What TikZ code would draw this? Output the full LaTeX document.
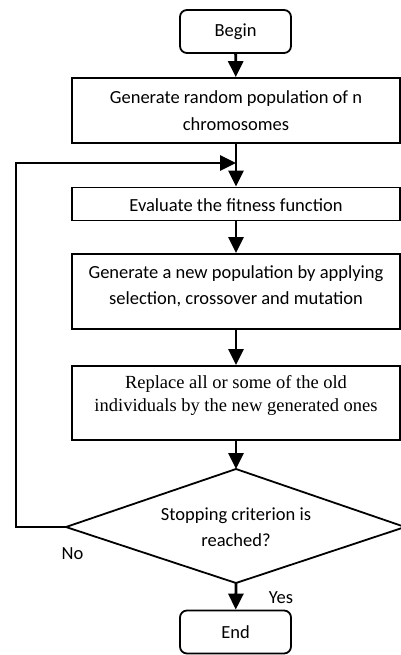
\documentclass[tikz,border=0pt]{standalone}
\usepackage{fontspec}
\setmainfont{Carlito}
\newfontfamily\timesfont{Liberation Serif}
\usetikzlibrary{arrows.meta}
\begin{document}
\begin{tikzpicture}[x=1pt,y=-1pt,
  box/.style={draw,line width=1.8pt,minimum width=328pt,align=center,inner sep=0pt,font=\fontsize{18.5}{27}\selectfont},
  term/.style={draw,line width=1.8pt,rounded corners=7pt,minimum width=111pt,minimum height=43pt,inner sep=0pt,font=\fontsize{18.5}{22}\selectfont},
  conn/.style={line width=2.8pt,-{Triangle[width=15pt,length=16pt]}},
  edge/.style={line width=1.8pt},
  lbl/.style={font=\fontsize{18.5}{22}\selectfont,inner sep=0pt}]
\useasboundingbox (0,0) rectangle (401,655);
\node[term] (begin) at (235.5,31.5) {Begin};
\node[box,minimum height=65pt] (gen) at (236,110.5) {Generate random population of n\\chromosomes};
\node[box,minimum height=33pt,text height=18pt,text depth=4pt] (eval) at (236,204) {Evaluate the fitness function};
\node[box,minimum height=75pt,font=\fontsize{18.5}{26}\selectfont,text height=29pt,text depth=4pt] (newpop) at (236,291.5) {Generate a new population by applying\\selection, crossover and mutation};
\node[box,minimum height=74pt,font=\timesfont\fontsize{18.5}{23}\selectfont,text height=20pt,text depth=4pt] (repl) at (236,403) {Replace all or some of the old\\individuals by the new generated ones};
\coordinate (dtop) at (236,469);
\coordinate (dleft) at (66,527);
\coordinate (dright) at (405,527);
\coordinate (dbot) at (236,583);
\draw[edge] (dtop) -- (dright) -- (dbot) -- (dleft) -- cycle;
\node[lbl,align=center,font=\fontsize{18.5}{26}\selectfont] (dec) at (236,527) {Stopping criterion is\\reached?};
\node[term] (end) at (235.5,632) {End};
\coordinate (c1) at (16,527);
\coordinate (c2) at (16,163);
\coordinate (loopin) at (236,163);
\draw[conn] (begin) -- (gen);
\draw[conn] (gen) -- (eval);
\draw[conn] (eval) -- (newpop);
\draw[conn] (newpop) -- (repl);
\draw[conn] (repl) -- (dtop);
\draw[conn] (dbot) -- (end);
\draw[conn] (dleft) -- (c1) -- (c2) -- (loopin);
\node[lbl] (no) at (72.5,554) {No};
\node[lbl] (yes) at (281,598) {Yes};
\end{tikzpicture}
\end{document}
